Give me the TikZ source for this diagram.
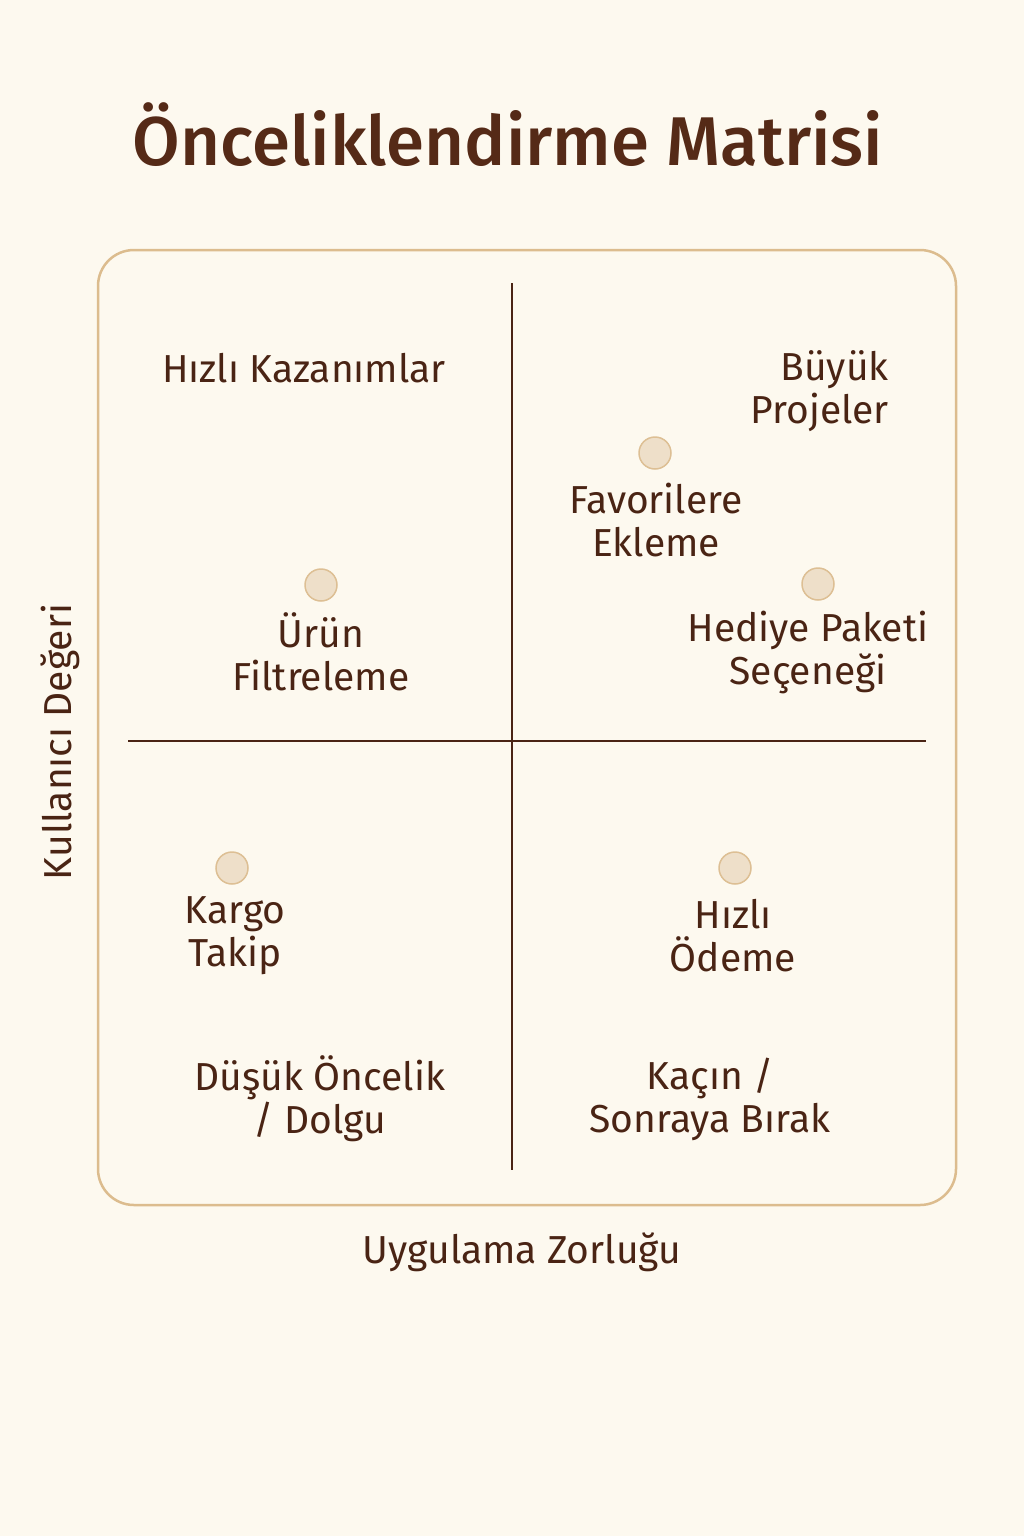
\documentclass[tikz,border=0pt]{standalone}
\usepackage{fontspec}
\setmainfont{Fira Sans}
\newfontfamily\titlefont{Fira Sans Medium}
\definecolor{bg}{HTML}{FDF9EF}
\definecolor{ink}{HTML}{4A2414}
\definecolor{titleink}{HTML}{552A17}
\definecolor{frame}{HTML}{DCBC8E}
\definecolor{dotfill}{HTML}{EEDFC9}
\definecolor{dotline}{HTML}{DDBF94}
\tikzset{
  lbl/.style={text=ink, font=\fontsize{39}{43}\selectfont, align=center, inner sep=0pt},
  dotmark/.style={circle, fill=dotfill, draw=dotline, line width=1.5pt, minimum size=32pt, inner sep=0pt},
  axisline/.style={draw=ink, line width=2pt}
}
\begin{document}
\begin{tikzpicture}[x=1pt,y=-1pt]
\fill[bg] (0,0) rectangle (1024,1536);
\useasboundingbox (0,0) rectangle (1024,1536);
\node[text=titleink, font=\titlefont\fontsize{69}{72}\selectfont, inner sep=0pt] (title) at (508,135) {Önceliklendirme Matrisi};
\draw[draw=frame, line width=2.5pt, rounded corners=36pt] (98,250) rectangle (956,1205);
\coordinate (vt) at (512,283);
\coordinate (vb) at (512,1170);
\coordinate (hl) at (128,741);
\coordinate (hr) at (926,741);
\draw[axisline] (vt) -- (vb);
\draw[axisline] (hl) -- (hr);
% quadrant titles
\node[lbl] (q1) at (304,368) {Hızlı Kazanımlar};
\node[lbl, align=right, anchor=east] (q2) at (889,391) {Büyük\\Projeler};
\node[lbl] (q3) at (320,1099) {Düşük Öncelik\\/ Dolgu};
\node[lbl] (q4) at (710,1099) {Kaçın /\\Sonraya Bırak};
% items
\node[dotmark] (d1) at (655,453) {};
\node[lbl] (t1) at (656,520) {Favorilere\\Ekleme};
\node[dotmark] (d2) at (818,584) {};
\node[lbl] (t2) at (808,652) {Hediye Paketi\\Seçeneği};
\node[dotmark] (d3) at (321,585) {};
\node[lbl] (t3) at (321,652) {Ürün\\Filtreleme};
\node[dotmark] (d4) at (232,868) {};
\node[lbl] (t4) at (235,936) {Kargo\\Takip};
\node[dotmark] (d5) at (735,868) {};
\node[lbl] (t5) at (733,936) {Hızlı\\Ödeme};
% axis labels
\node[lbl] (xl) at (522,1252) {Uygulama Zorluğu};
\node[lbl, rotate=90] (yl) at (60,742) {Kullanıcı Değeri};
\end{tikzpicture}
\end{document}
